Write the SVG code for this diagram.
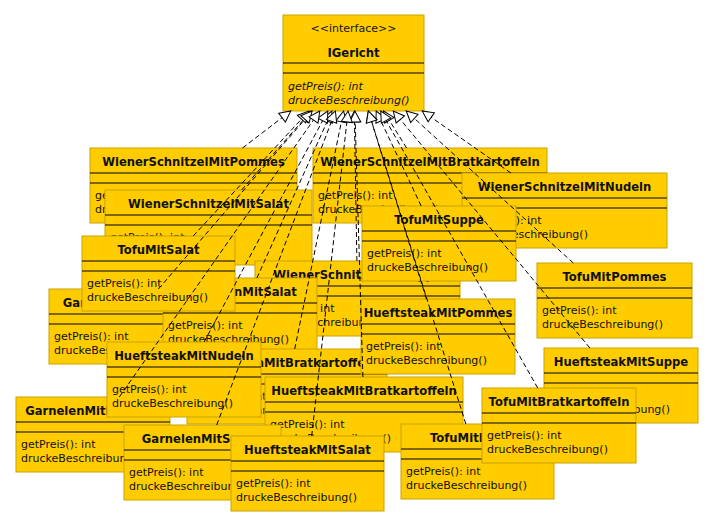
<svg xmlns="http://www.w3.org/2000/svg" width="714" height="527" viewBox="0 0 714 527">
<style>
.box{fill:#ffcc00;stroke:#c9a200;stroke-width:1}
.sep{stroke:#000;stroke-width:1.2}
.name{font-family:"DejaVu Sans",sans-serif;font-weight:bold;font-size:11.6px;text-anchor:middle;fill:#111}
.st{font-family:"DejaVu Sans",sans-serif;font-size:11px;text-anchor:middle;fill:#111}
.m{font-family:"DejaVu Sans",sans-serif;font-size:11px;fill:#111}
.i{font-style:italic}
.dep{fill:none;stroke:#000;stroke-width:1;stroke-dasharray:5 3;marker-end:url(#tri)}
</style>
<defs>
<marker id="tri" markerUnits="userSpaceOnUse" markerWidth="13" markerHeight="13" refX="11" refY="5.5" orient="auto" overflow="visible">
<path d="M0,0 L11,5.5 L0,11 Z" fill="#fff" stroke="#000" stroke-width="1" stroke-dasharray="none"/>
</marker>
</defs>
<rect width="714" height="527" fill="#fff"/>

<g id="IGericht">
<rect class="box" x="283" y="15" width="141" height="96"/>
<line class="sep" x1="283" y1="63" x2="424" y2="63"/><line class="sep" x1="283" y1="73" x2="424" y2="73"/>
<text class="st" x="353.5" y="32">&lt;&lt;interface&gt;&gt;</text>
<text class="name" x="353.5" y="57">IGericht</text>
<text class="m i" x="288" y="90">getPreis(): int</text>
<text class="m i" x="288" y="104">druckeBeschreibung()</text>
</g>

<g id="WienerSchnitzelMitPommes">
<rect class="box" x="90" y="148" width="207" height="75"/>
<line class="sep" x1="90" y1="173" x2="297" y2="173"/><line class="sep" x1="90" y1="183" x2="297" y2="183"/>
<text class="name" x="193.5" y="166">WienerSchnitzelMitPommes</text>
<text class="m" x="95" y="199">getPreis(): int</text><text class="m" x="95" y="213">druckeBeschreibung()</text>
</g>

<g id="WienerSchnitzelMitBratkartoffeln">
<rect class="box" x="313" y="148" width="234" height="75"/>
<line class="sep" x1="313" y1="173" x2="547" y2="173"/><line class="sep" x1="313" y1="183" x2="547" y2="183"/>
<text class="name" x="430" y="166">WienerSchnitzelMitBratkartoffeln</text>
<text class="m" x="318" y="199">getPreis(): int</text><text class="m" x="318" y="213">druckeBeschreibung()</text>
</g>

<g id="WienerSchnitzelMitNudeln">
<rect class="box" x="462" y="173" width="205" height="75"/>
<line class="sep" x1="462" y1="198" x2="667" y2="198"/><line class="sep" x1="462" y1="208" x2="667" y2="208"/>
<text class="name" x="564.5" y="191">WienerSchnitzelMitNudeln</text>
<text class="m" x="467" y="224">getPreis(): int</text><text class="m" x="467" y="238">druckeBeschreibung()</text>
</g>

<g id="WienerSchnitzelMitSalat">
<rect class="box" x="105" y="190" width="207" height="75"/>
<line class="sep" x1="105" y1="215" x2="312" y2="215"/><line class="sep" x1="105" y1="225" x2="312" y2="225"/>
<text class="name" x="208.5" y="208">WienerSchnitzelMitSalat</text>
<text class="m" x="110" y="241">getPreis(): int</text><text class="m" x="110" y="255">druckeBeschreibung()</text>
</g>

<g id="WienerSchnitzelMitSuppe">
<rect class="box" x="255" y="261" width="205" height="75"/>
<line class="sep" x1="255" y1="286" x2="460" y2="286"/><line class="sep" x1="255" y1="296" x2="460" y2="296"/>
<text class="name" x="357.5" y="279">WienerSchnitzelMitSuppe</text>
<text class="m" x="260" y="312">getPreis(): int</text><text class="m" x="260" y="326">druckeBeschreibung()</text>
</g>

<g id="GarnelenMitNudeln">
<rect class="box" x="49" y="289" width="154" height="75"/>
<line class="sep" x1="49" y1="314" x2="203" y2="314"/><line class="sep" x1="49" y1="324" x2="203" y2="324"/>
<text class="name" x="126" y="307">GarnelenMitNudeln</text>
<text class="m" x="54" y="340">getPreis(): int</text><text class="m" x="54" y="354">druckeBeschreibung()</text>
</g>

<g id="GarnelenMitSalat">
<rect class="box" x="163" y="278" width="154" height="75"/>
<line class="sep" x1="163" y1="303" x2="317" y2="303"/><line class="sep" x1="163" y1="313" x2="317" y2="313"/>
<text class="name" x="240" y="296">GarnelenMitSalat</text>
<text class="m" x="168" y="329">getPreis(): int</text><text class="m" x="168" y="343">druckeBeschreibung()</text>
</g>

<g id="TofuMitSalat">
<rect class="box" x="82" y="236" width="153" height="75"/>
<line class="sep" x1="82" y1="261" x2="235" y2="261"/><line class="sep" x1="82" y1="271" x2="235" y2="271"/>
<text class="name" x="158.5" y="254">TofuMitSalat</text>
<text class="m" x="87" y="287">getPreis(): int</text><text class="m" x="87" y="301">druckeBeschreibung()</text>
</g>

<g id="TofuMitSuppe">
<rect class="box" x="362" y="206" width="154" height="75"/>
<line class="sep" x1="362" y1="231" x2="516" y2="231"/><line class="sep" x1="362" y1="241" x2="516" y2="241"/>
<text class="name" x="439" y="224">TofuMitSuppe</text>
<text class="m" x="367" y="257">getPreis(): int</text><text class="m" x="367" y="271">druckeBeschreibung()</text>
</g>

<g id="TofuMitPommes">
<rect class="box" x="537" y="263" width="155" height="75"/>
<line class="sep" x1="537" y1="288" x2="692" y2="288"/><line class="sep" x1="537" y1="298" x2="692" y2="298"/>
<text class="name" x="614.5" y="281">TofuMitPommes</text>
<text class="m" x="542" y="314">getPreis(): int</text><text class="m" x="542" y="328">druckeBeschreibung()</text>
</g>

<g id="GarnelenMitPommes">
<rect class="box" x="16" y="397" width="154" height="75"/>
<line class="sep" x1="16" y1="422" x2="170" y2="422"/><line class="sep" x1="16" y1="432" x2="170" y2="432"/>
<text class="name" x="93" y="415">GarnelenMitPommes</text>
<text class="m" x="21" y="448">getPreis(): int</text><text class="m" x="21" y="462">druckeBeschreibung()</text>
</g>

<g id="GarnelenMitBratkartoffeln">
<rect class="box" x="187" y="349" width="200" height="75"/>
<line class="sep" x1="187" y1="374" x2="387" y2="374"/><line class="sep" x1="187" y1="384" x2="387" y2="384"/>
<text class="name" x="291" y="367">GarnelenMitBratkartoffeln</text>
<text class="m" x="192" y="400">getPreis(): int</text><text class="m" x="192" y="414">druckeBeschreibung()</text>
</g>

<g id="HueftsteakMitNudeln">
<rect class="box" x="107" y="342" width="154" height="75"/>
<line class="sep" x1="107" y1="367" x2="261" y2="367"/><line class="sep" x1="107" y1="377" x2="261" y2="377"/>
<text class="name" x="184" y="360">HueftsteakMitNudeln</text>
<text class="m" x="112" y="393">getPreis(): int</text><text class="m" x="112" y="407">druckeBeschreibung()</text>
</g>

<g id="HueftsteakMitPommes">
<rect class="box" x="361" y="299" width="154" height="75"/>
<line class="sep" x1="361" y1="324" x2="515" y2="324"/><line class="sep" x1="361" y1="334" x2="515" y2="334"/>
<text class="name" x="438" y="317">HueftsteakMitPommes</text>
<text class="m" x="366" y="350">getPreis(): int</text><text class="m" x="366" y="364">druckeBeschreibung()</text>
</g>

<g id="HueftsteakMitSuppe">
<rect class="box" x="544" y="348" width="154" height="75"/>
<line class="sep" x1="544" y1="373" x2="698" y2="373"/><line class="sep" x1="544" y1="383" x2="698" y2="383"/>
<text class="name" x="621" y="366">HueftsteakMitSuppe</text>
<text class="m" x="549" y="399">getPreis(): int</text><text class="m" x="549" y="413">druckeBeschreibung()</text>
</g>

<g id="HueftsteakMitBratkartoffeln">
<rect class="box" x="265" y="377" width="198" height="75"/>
<line class="sep" x1="265" y1="402" x2="463" y2="402"/><line class="sep" x1="265" y1="412" x2="463" y2="412"/>
<text class="name" x="364" y="395">HueftsteakMitBratkartoffeln</text>
<text class="m" x="270" y="428">getPreis(): int</text><text class="m" x="270" y="442">druckeBeschreibung()</text>
</g>

<g id="GarnelenMitSuppe">
<rect class="box" x="124" y="425" width="157" height="75"/>
<line class="sep" x1="124" y1="450" x2="281" y2="450"/><line class="sep" x1="124" y1="460" x2="281" y2="460"/>
<text class="name" x="202.5" y="443">GarnelenMitSuppe</text>
<text class="m" x="129" y="476">getPreis(): int</text><text class="m" x="129" y="490">druckeBeschreibung()</text>
</g>

<g id="HueftsteakMitSalat">
<rect class="box" x="231" y="436" width="153" height="75"/>
<line class="sep" x1="231" y1="461" x2="384" y2="461"/><line class="sep" x1="231" y1="471" x2="384" y2="471"/>
<text class="name" x="307.5" y="454">HueftsteakMitSalat</text>
<text class="m" x="236" y="487">getPreis(): int</text><text class="m" x="236" y="501">druckeBeschreibung()</text>
</g>

<g id="TofuMitNudeln">
<rect class="box" x="401" y="424" width="153" height="75"/>
<line class="sep" x1="401" y1="449" x2="554" y2="449"/><line class="sep" x1="401" y1="459" x2="554" y2="459"/>
<text class="name" x="477.5" y="442">TofuMitNudeln</text>
<text class="m" x="406" y="475">getPreis(): int</text><text class="m" x="406" y="489">druckeBeschreibung()</text>
</g>

<g id="TofuMitBratkartoffeln">
<rect class="box" x="482" y="388" width="154" height="75"/>
<line class="sep" x1="482" y1="413" x2="636" y2="413"/><line class="sep" x1="482" y1="423" x2="636" y2="423"/>
<text class="name" x="559" y="406">TofuMitBratkartoffeln</text>
<text class="m" x="487" y="439">getPreis(): int</text><text class="m" x="487" y="453">druckeBeschreibung()</text>
</g>

<g id="connectors">
<line class="dep" x1="242.5" y1="148" x2="290.8" y2="111"/>
<line class="dep" x1="406.6" y1="148" x2="383.5" y2="111"/>
<line class="dep" x1="510.9" y1="173" x2="422.2" y2="111"/>
<line class="dep" x1="241.6" y1="190" x2="311.2" y2="111"/>
<line class="dep" x1="421.2" y1="206" x2="376.2" y2="111"/>
<line class="dep" x1="193.2" y1="236" x2="309" y2="111"/>
<line class="dep" x1="356.9" y1="261" x2="354.3" y2="111"/>
<line class="dep" x1="256.9" y1="278" x2="331.9" y2="111"/>
<line class="dep" x1="158.4" y1="289" x2="312.1" y2="111"/>
<line class="dep" x1="573.3" y1="263" x2="406.2" y2="111"/>
<line class="dep" x1="426.4" y1="299" x2="368.3" y2="111"/>
<line class="dep" x1="204.1" y1="342" x2="327.8" y2="111"/>
<line class="dep" x1="294.7" y1="349" x2="343.6" y2="111"/>
<line class="dep" x1="589.9" y1="348" x2="393.3" y2="111"/>
<line class="dep" x1="362.9" y1="377" x2="354.9" y2="111"/>
<line class="dep" x1="119.3" y1="397" x2="319.8" y2="111"/>
<line class="dep" x1="537.7" y1="388" x2="380.7" y2="111"/>
<line class="dep" x1="216.7" y1="425" x2="335.4" y2="111"/>
<line class="dep" x1="311.7" y1="436" x2="348.1" y2="111"/>
<line class="dep" x1="465.8" y1="424" x2="368.4" y2="111"/>
</g>
</svg>
